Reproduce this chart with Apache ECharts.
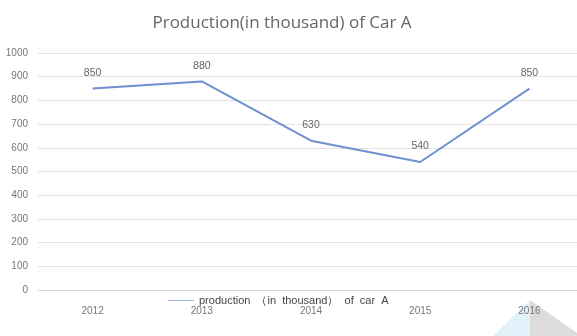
<!DOCTYPE html>
<html>
<head>
<meta charset="utf-8">
<script src="https://cdn.jsdelivr.net/npm/echarts@6/dist/echarts.min.js"></script>
<style>html,body{margin:0;padding:0;background:#fff;overflow:hidden}#c{width:584px;height:336px}</style>
</head>
<body>
<div id="c"></div>
<script>
const categories = ['2012', '2013', '2014', '2015', '2016'];
const production = [850, 880, 630, 540, 850];
const seriesName = 'production  （in  thousand）  of  car  A';
const titleText = 'Production(in thousand) of Car A';

const chart = echarts.init(document.getElementById('c'));
chart.setOption({
  backgroundColor: '#fff',
  animation: false,
  title: {
    text: titleText,
    left: 277,
    textAlign: 'center',
    top: 10,
    textStyle: { fontFamily: 'Open Sans', fontSize: 17, fontWeight: 'normal', color: '#666' }
  },
  legend: {
    data: [seriesName],
    left: 163,
    top: 290,
    itemWidth: 26,
    itemHeight: 10,
    itemGap: 5,
    icon: 'path://M0,4.5L26,4.5L26,5.5L0,5.5Z',
    itemStyle: { color: '#9db4de', opacity: 1 },
    textStyle: { fontFamily: 'Liberation Sans', fontSize: 11, color: '#444' }
  },
  grid: { left: 38, right: 0, top: 53, bottom: 46 },
  xAxis: {
    type: 'category',
    data: categories,
    boundaryGap: true,
    axisLine: { lineStyle: { color: '#d9d9d9' } },
    axisTick: { show: false },
    axisLabel: { margin: 16, fontFamily: 'Liberation Sans', fontSize: 10, color: '#777' }
  },
  yAxis: {
    type: 'value',
    min: 0,
    max: 1000,
    interval: 100,
    axisLine: { show: false },
    axisTick: { show: false },
    splitLine: { lineStyle: { color: '#e3e3e3' } },
    axisLabel: { margin: 10, fontFamily: 'Liberation Sans', fontSize: 10, color: '#777', formatter: v => String(v) }
  },
  series: [{
    name: seriesName,
    type: 'line',
    data: production,
    symbol: 'circle',
    symbolSize: 2,
    showSymbol: true,
    lineStyle: { color: '#7090cf', width: 2 },
    itemStyle: { color: 'rgba(112,144,207,0)', borderWidth: 0 },
    label: {
      show: true, position: 'top', distance: 9,
      fontFamily: 'Liberation Sans', fontSize: 10.5, color: '#666'
    }
  }],
  graphic: [
    { type: 'polygon', silent: true, z: -1, shape: { points: [[530, 300], [493, 336], [530, 336]] }, style: { fill: '#e2f2fb' } },
    { type: 'polygon', silent: true, z: -1, shape: { points: [[530, 300], [577, 333], [577, 336], [530, 336]] }, style: { fill: '#dcdcdc' } }
  ]
});
</script>
</body>
</html>
